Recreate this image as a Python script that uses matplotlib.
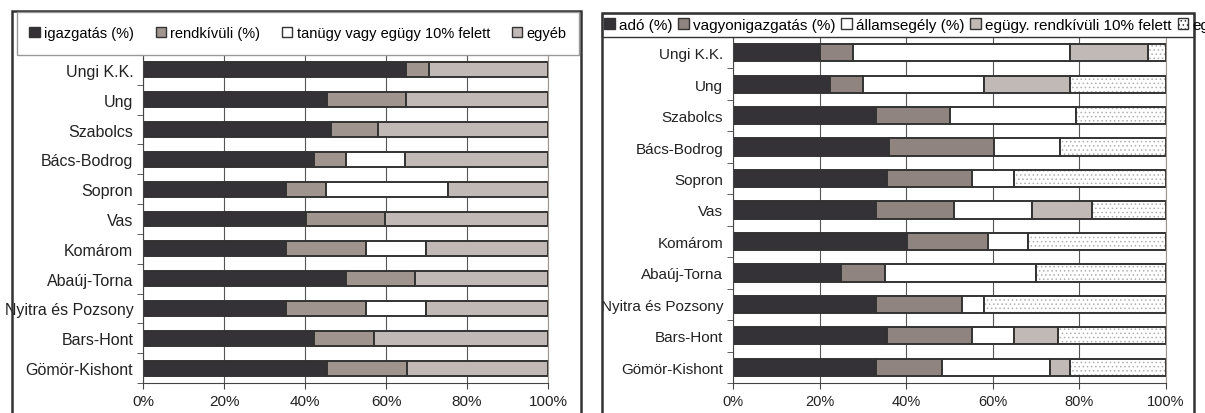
import matplotlib.pyplot as plt
import numpy as np
from matplotlib.patches import Rectangle, Patch

plt.rcParams['font.family'] = ['Liberation Sans', 'DejaVu Sans']
plt.rcParams['hatch.linewidth'] = 0.6

# megyék, felülről lefelé
megyek = ['Ungi K.K.', 'Ung', 'Szabolcs', 'Bács-Bodrog', 'Sopron', 'Vas',
          'Komárom', 'Abaúj-Torna', 'Nyitra és Pozsony', 'Bars-Hont',
          'Gömör-Kishont']

# bal oldali ábra: kiadások
igazgatas = [65.0, 45.5, 46.3, 42.3, 35.4, 40.3, 35.4, 50.2, 35.4, 42.3, 45.4]
rendkivuli = [5.7, 19.4, 11.7, 7.7, 9.7, 19.5, 19.6, 17.0, 19.6, 14.7, 19.7]
tanugy = [0, 0, 0, 14.8, 30.1, 0, 14.8, 0, 14.8, 0, 0]
egyeb_bal = [29.3, 35.1, 42.0, 35.2, 24.8, 40.2, 30.2, 32.8, 30.2, 43.0, 34.9]

# jobb oldali ábra: bevételek
ado = [20.1, 22.4, 33.1, 36.0, 35.5, 33.1, 40.1, 25.0, 33.1, 35.5, 33.1]
vagyon = [7.6, 7.7, 17.0, 24.3, 19.7, 17.9, 18.8, 10.1, 19.9, 19.7, 15.1]
allamsegely = [50.1, 27.9, 29.1, 15.3, 9.6, 18.1, 9.3, 34.8, 5.0, 9.6, 25.1]
egugy = [18.1, 19.8, 0, 0, 0, 13.9, 0, 0, 0, 10.3, 4.5]
egyeb_jobb = [4.1, 22.2, 20.8, 24.4, 35.2, 17.0, 31.8, 30.1, 42.0, 24.9, 22.2]

W, H = 1205, 414
fig = plt.figure(figsize=(W / 100, H / 100), dpi=100)

DARK = '#343236'
EDGE = '#333333'


def px_axes(x0, y0, x1, y1):
    # pixel koordináták (bal felső sarokból) -> figure fraction
    return fig.add_axes([x0 / W, 1 - y1 / H, (x1 - x0) / W, (y1 - y0) / H])


def setup_axes(ax, fs):
    n = len(megyek)
    ax.set_xlim(0, 100)
    ax.set_ylim(n - 0.5, -0.5)
    ax.set_xticks(np.arange(0, 101, 20))
    ax.set_xticklabels(['%d%%' % v for v in range(0, 101, 20)])
    ax.set_yticks(np.arange(n))
    ax.set_yticklabels(megyek)
    ax.set_yticks(np.arange(n + 1) - 0.5, minor=True)
    ax.tick_params(axis='y', which='major', length=0, pad=7, labelsize=fs,
                   colors='#222222')
    ax.tick_params(axis='y', which='minor', length=4, direction='out',
                   color='#444444')
    ax.tick_params(axis='x', which='major', length=4, direction='out',
                   pad=4, labelsize=fs - 0.5, colors='#222222', color='#444444')
    ax.grid(axis='x', color='#555555', linewidth=0.8)
    ax.set_axisbelow(True)
    ax.spines['top'].set_visible(False)
    ax.spines['right'].set_color('#a0948f')
    ax.spines['left'].set_color('#444444')
    ax.spines['bottom'].set_color('#444444')


def stack(ax, series, colors, hatches, height):
    y = np.arange(len(megyek))
    left = np.zeros(len(megyek))
    for vals, c, h in zip(series, colors, hatches):
        vals = np.array(vals, dtype=float)
        if h:
            ax.barh(y, vals, left=left, height=height, color='white',
                    edgecolor='#b0b0b0', hatch=h, linewidth=0)
            ax.barh(y, vals, left=left, height=height, fill=False,
                    edgecolor=EDGE, linewidth=1.4)
        else:
            ax.barh(y, vals, left=left, height=height, color=c,
                    edgecolor=EDGE, linewidth=1.4)
        left += vals


# ---- bal oldali ábra ----
fig.patches.append(Rectangle((12 / W, -0.1), (581 - 12) / W, 1.1 - 12 / H,
                             transform=fig.transFigure, fill=False,
                             edgecolor='#333333', linewidth=1.8))
fig.patches.append(Rectangle((17 / W, 1 - 56 / H), (579 - 17) / W, (56 - 13) / H,
                             transform=fig.transFigure, fill=False,
                             edgecolor='#999999', linewidth=1.0))

ax1 = px_axes(143, 56, 548, 384)
setup_axes(ax1, 11.5)
bal_szinek = [DARK, '#a0948f', 'white', '#c1b9b6']
stack(ax1, [igazgatas, rendkivuli, tanugy, egyeb_bal], bal_szinek,
      [None, None, None, None], 0.5)

bal_cimkek = ['igazgatás (%)', 'rendkívüli (%)', 'tanügy vagy egügy 10% felett',
              'egyéb']
h1 = [Patch(facecolor=c, edgecolor=EDGE, linewidth=1.0) for c in bal_szinek]
fig.legend(h1, bal_cimkek, loc='center', bbox_to_anchor=(298 / W, 1 - 34 / H),
           ncol=4, frameon=False, fontsize=10.5, handlelength=0.7,
           handleheight=0.7, handletextpad=0.3, columnspacing=1.5)

# ---- jobb oldali ábra ----
fig.patches.append(Rectangle((602 / W, -0.1), (1194 - 602) / W, 1.1 - 14 / H,
                             transform=fig.transFigure, fill=False,
                             edgecolor='#333333', linewidth=1.8))
fig.patches.append(Rectangle((602 / W, 1 - 38 / H), (1194 - 602) / W, (38 - 14) / H,
                             transform=fig.transFigure, fill=False,
                             edgecolor='#333333', linewidth=1.0))

ax2 = px_axes(733, 38, 1166, 384)
setup_axes(ax2, 11)
jobb_szinek = [DARK, '#908480', 'white', '#c1b9b6', 'white']
stack(ax2, [ado, vagyon, allamsegely, egugy, egyeb_jobb], jobb_szinek,
      [None, None, None, None, '....'], 0.55)

jobb_cimkek = ['adó (%)', 'vagyonigazgatás (%)', 'államsegély (%)',
               'egügy. rendkívüli 10% felett', 'egyéb']
h2 = [Patch(facecolor=c, edgecolor=EDGE, linewidth=1.0) for c in jobb_szinek]
h2[-1] = Patch(facecolor='white', edgecolor=EDGE, hatch='....', linewidth=1.0)
fig.legend(h2, jobb_cimkek, loc='center left', bbox_to_anchor=(604 / W, 1 - 26 / H),
           ncol=5, frameon=False, fontsize=11, handlelength=0.7,
           handleheight=0.7, handletextpad=0.25, columnspacing=0.4,
           borderpad=0.0, borderaxespad=0.0)

fig.savefig('out.png', dpi=100)
